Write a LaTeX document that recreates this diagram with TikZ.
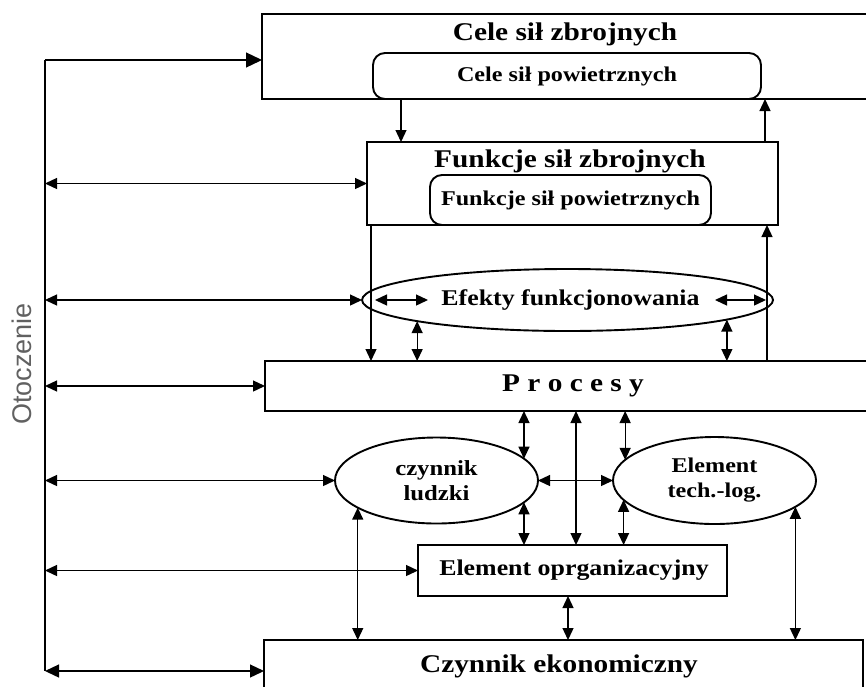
\documentclass[tikz,border=0pt]{standalone}
\usepackage{fontspec}
\setmainfont{Liberation Serif}[FakeStretch=1.15]
\newfontfamily\sidefont{Liberation Sans}
\usetikzlibrary{arrows.meta,shapes.geometric}

\tikzset{
  frame/.style={draw, line width=1.9pt, inner sep=0pt, outer sep=0pt},
  pill/.style={frame, rounded corners=12pt},
  oval/.style={draw, ellipse, line width=1.9pt, inner sep=0pt, outer sep=0pt},
  txt/.style={font=\bfseries\fontsize{#1}{#1}\selectfont, inner sep=0pt},
  twoline/.style={font=\bfseries\fontsize{#1}{25}\selectfont, align=center},
  link/.style={line width=1.3pt},
  tip/.tip={Triangle[length=12pt,width=11pt]},
  arr/.style={link, -tip},
  dbl/.style={link, tip-tip},
}

\begin{document}
\begin{tikzpicture}[x=1pt, y=-1pt]
\useasboundingbox (0,0) rectangle (866,686);

% goals
\node[frame, anchor=north west, minimum width=620pt, minimum height=85pt] (cele) at (262,14) {};
\node[txt=25.5, anchor=base] (celeT) at (565,40) {Cele sił zbrojnych};
\node[pill, anchor=north west, minimum width=388pt, minimum height=46pt,
      txt=21] (celeAir) at (373,53) {Cele sił powietrznych};

% functions
\node[frame, anchor=north west, minimum width=411pt, minimum height=83pt] (funk) at (367,142) {};
\node[txt=25.5, anchor=base] (funkT) at (570,167) {Funkcje sił zbrojnych};
\node[pill, anchor=north west, minimum width=281pt, minimum height=50pt,
      txt=21] (funkAir) at (430,175) {Funkcje sił powietrznych};

% effects
\node[oval, minimum width=411pt, minimum height=62pt, txt=22.5] (efekty) at (567.5,300)
  {\hspace*{6pt}Efekty funkcjonowania};

% processes
\node[frame, anchor=north west, minimum width=620pt, minimum height=50pt] (procesy) at (265,361) {};
\node[txt=25.5] (procT) at (573,386) {P r o c e s y};

% factors
\node[oval, minimum width=203pt, minimum height=86pt, twoline=21.5] (ludzki) at (436.5,480.5) {czynnik\\ludzki};
\node[oval, minimum width=203pt, minimum height=87pt, twoline=21] (tech) at (714.5,480.5) {Element\\tech.-log.};
\node[frame, anchor=north west, minimum width=309pt, minimum height=51pt,
      txt=22.5] (elemorg) at (418,545) {\hspace*{3pt}Element oprganizacyjny};
\node[frame, anchor=north west, minimum width=599pt, minimum height=80pt] (ekon) at (264,640) {};
\node[txt=25.5, anchor=base] (ekonT) at (559,672) {Czynnik ekonomiczny};

% environment
\coordinate (envT) at (45,60);
\coordinate (envB) at (45,671);
\draw[line width=1.5pt] (envT) -- (envB);
\node[rotate=90, inner sep=0pt, text=black!62, font=\sidefont\fontsize{27}{27}\selectfont]
  (otocz) at (22,364) {Otoczenie};

\draw[link, -{Triangle[length=16pt,width=15pt]}] (envT) -- (envT -| cele.west);
\draw[dbl] (envT |- funk.west) -- (funk.west);
\draw[dbl] (envT |- efekty.west) -- (efekty.west);
\draw[dbl] (envT |- procesy.west) -- (procesy.west);
\draw[dbl] (envT |- ludzki.west) -- (ludzki.west);
\draw[dbl] (envT |- elemorg.west) -- (elemorg.west);
\draw[link, {Triangle[length=14pt,width=13pt]}-{Triangle[length=14pt,width=13pt]}]
  (envB) -- (envB -| ekon.west);

% goals <-> functions
\draw[arr] (401,0 |- cele.south) -- (401,0 |- funk.north);
\draw[arr] (765,0 |- funk.north) -- (765,0 |- cele.south);

% functions <-> processes
\draw[arr] (371,0 |- funk.south) -- (371,0 |- procesy.north);
\draw[arr] (767,0 |- procesy.north) -- (767,0 |- funk.south);

% arrows inside the effects ellipse
\coordinate (eL1) at (375,300);
\coordinate (eL2) at (428,300);
\coordinate (eR1) at (715,300);
\coordinate (eR2) at (766,300);
\draw[dbl] (eL1) -- (eL2);
\draw[dbl] (eR1) -- (eR2);

% effects <-> processes
\draw[dbl] (efekty.188.7) -- (efekty.188.7 |- procesy.north);
\draw[dbl] (efekty.-7) -- (efekty.-7 |- procesy.north);

% processes <-> factors
\draw[dbl] (ludzki.14.6 |- procesy.south) -- (ludzki.14.6);
\draw[dbl] (tech.167.1 |- procesy.south) -- (tech.167.1);
\draw[dbl] (576,0 |- procesy.south) -- (576,0 |- elemorg.north);
\draw[dbl] (ludzki.east) -- (tech.west);

% factors <-> organisation
\draw[dbl] (ludzki.-14.6) -- (ludzki.-14.6 |- elemorg.north);
\draw[dbl] (tech.192.9) -- (tech.192.9 |- elemorg.north);

% factors <-> economy
\draw[dbl] (ludzki.199.2) -- (ludzki.199.2 |- ekon.north);
\draw[dbl] (tech.-18.2) -- (tech.-18.2 |- ekon.north);
\draw[dbl] (568,0 |- elemorg.south) -- (568,0 |- ekon.north);
\end{tikzpicture}
\end{document}
